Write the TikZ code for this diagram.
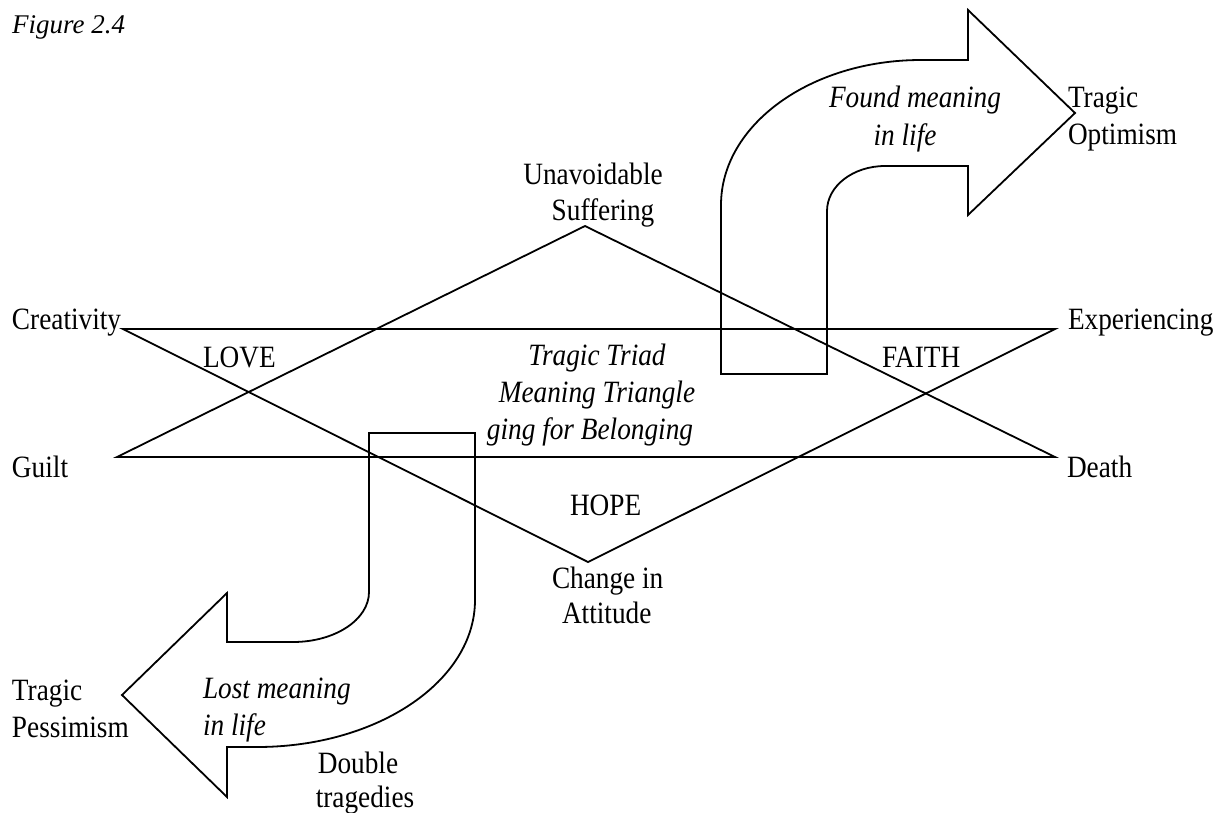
\documentclass[tikz,border=0pt]{standalone}
\usepackage{fontspec}
\setmainfont{Liberation Serif}[FakeStretch=0.88]
\newfontfamily\capfont{Liberation Serif}
\tikzset{
  lbl/.style={inner sep=0pt, outer sep=0pt, font=\fontsize{31}{37}\selectfont},
  lbli/.style={inner sep=0pt, outer sep=0pt, font=\fontsize{31}{37}\selectfont\itshape},
  ln/.style={line width=1.8pt, line join=miter},
}
\begin{document}
\begin{tikzpicture}[x=1pt,y=-1pt]
\useasboundingbox (0,0) rectangle (1217,812);

% vertices
\coordinate (cre) at (123,329);
\coordinate (exp) at (1055,329);
\coordinate (gui) at (117,457);
\coordinate (dea) at (1055,457);
\coordinate (top) at (585,226);
\coordinate (bot) at (588,562);

% triangles
\draw[ln] (gui) -- (top) -- (dea) -- cycle;
\draw[ln] (cre) -- (bot) -- (exp) -- cycle;

% upper bent arrow (Found meaning)
\draw[ln] (721,374) -- (721,205)
  .. controls (721,124.9) and (810.5,60) .. (921,60)
  -- (968,60) -- (968,10) -- (1075,113) -- (968,215) -- (968,166)
  -- (885,166)
  .. controls (853,166) and (827,186.1) .. (827,211)
  -- (827,374) -- cycle;

% lower bent arrow (Lost meaning)
\draw[ln] (369,433) -- (475,433) -- (475,600)
  .. controls (475,681.2) and (377.4,747) .. (257,747)
  -- (227,747) -- (227,797) -- (122,695) -- (227,593) -- (227,642)
  -- (293,642)
  .. controls (335,642) and (369,619.6) .. (369,592)
  -- cycle;

% caption
\node[inner sep=0pt, anchor=base west, font=\capfont\fontsize{27}{32}\selectfont\itshape] (fig) at (12,33) {Figure 2.4};

% corner labels
\node[lbl, anchor=base west] (tcre) at (12,329) {Creativity};
\node[lbl, anchor=base west] (tgui) at (12,477) {Guilt};
\node[lbl, anchor=base west] (texp) at (1068,329) {Experiencing};
\node[lbl, anchor=base west] (tdea) at (1067,477) {Death};
\node[lbl, anchor=base] (tuna) at (593,184) {Unavoidable};
\node[lbl, anchor=base] (tsuf) at (603,220) {Suffering};
\node[lbl, anchor=base west] (tcha) at (552,588) {Change in};
\node[lbl, anchor=base west] (tatt) at (562,623) {Attitude};

% inner labels
\node[lbl, anchor=base west] (tlove) at (203,367) {LOVE};
\node[lbl, anchor=base west] (tfaith) at (882,367) {FAITH};
\node[lbl, anchor=base west] (thope) at (570,515) {HOPE};
\node[lbli, anchor=base] (ttri1) at (597,365) {Tragic Triad};
\node[lbli, anchor=base] (ttri2) at (597,402) {Meaning Triangle};
\node[lbli, anchor=base] (ttri3) at (590,439) {ging for Belonging};

% arrow labels
\node[lbli, anchor=base] (tfound1) at (915,107) {Found meaning};
\node[lbli, anchor=base] (tfound2) at (905,145) {in life};
\node[lbl, anchor=base west] (topt1) at (1068,107) {Tragic};
\node[lbl, anchor=base west] (topt2) at (1068,144) {Optimism};
\node[lbl, anchor=base west] (tpes1) at (12,700) {Tragic};
\node[lbl, anchor=base west] (tpes2) at (12,737) {Pessimism};
\node[lbli, anchor=base west] (tlost1) at (203,698) {Lost meaning};
\node[lbli, anchor=base west] (tlost2) at (203,735) {in life};
\node[lbl, anchor=base] (tdou1) at (358,773) {Double};
\node[lbl, anchor=base] (tdou2) at (365,807) {tragedies};
\end{tikzpicture}
\end{document}
